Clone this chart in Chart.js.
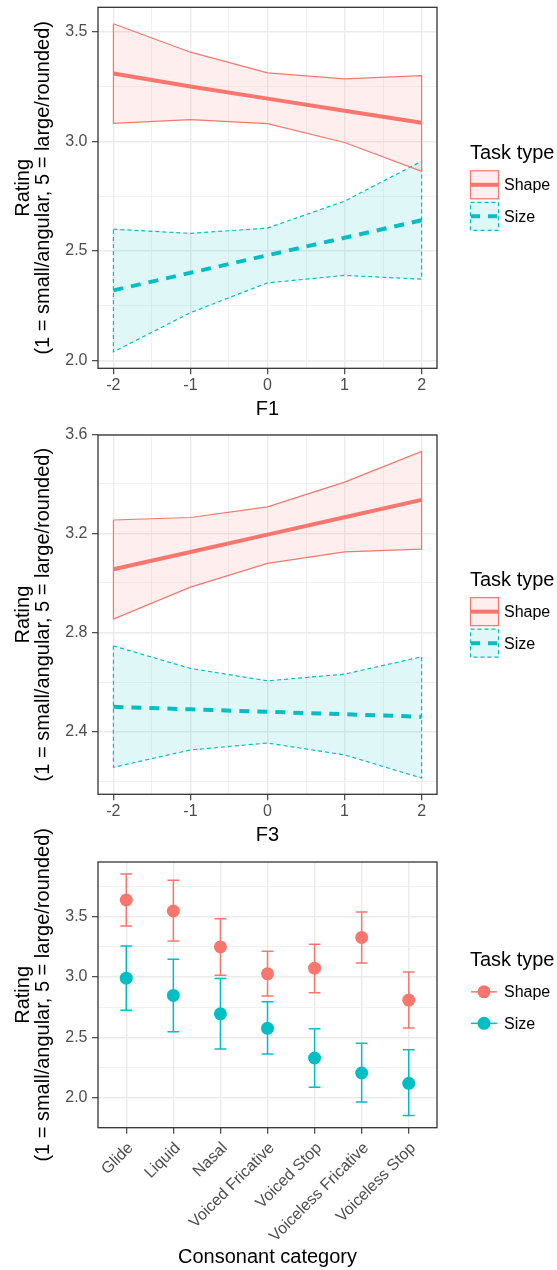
<!DOCTYPE html>
<html><head><meta charset="utf-8">
<script src="https://cdn.jsdelivr.net/npm/chart.js"></script>
<style>
html,body{margin:0;padding:0;background:#fff;}
body{width:557px;height:1270px;position:relative;overflow:hidden;}
canvas{position:absolute;left:0;}
</style></head><body>
<canvas id="c1" width="557" height="420" style="top:0px"></canvas>
<canvas id="c2" width="557" height="425" style="top:420px"></canvas>
<canvas id="c3" width="557" height="455" style="top:815px"></canvas>
<script>
// ---------------- DATA ----------------
const seriesNames = ['Shape', 'Size'];
const legendTitle = 'Task type';
const yTitle = ['Rating', '(1 = small/angular, 5 = large/rounded)'];

const xValues = [-2, -1, 0, 1, 2];
const xMajorTicks = [-2, -1, 0, 1, 2];
const xMinorTicks = [-1.5, -0.5, 0.5, 1.5];

// Panel 1 : F1
const f1ShapeFit   = [3.31, 3.25, 3.195, 3.14, 3.085];
const f1ShapeUpper = [3.537, 3.407, 3.313, 3.285, 3.30];
const f1ShapeLower = [3.082, 3.099, 3.081, 2.995, 2.863];
const f1SizeFit    = [2.32, 2.40, 2.48, 2.56, 2.64];
const f1SizeUpper  = [2.599, 2.58, 2.604, 2.727, 2.909];
const f1SizeLower  = [2.039, 2.218, 2.354, 2.388, 2.371];
const f1YMajor = [2.0, 2.5, 3.0, 3.5];
const f1YMinor = [2.25, 2.75, 3.25];

// Panel 2 : F3
const f3ShapeFit   = [3.055, 3.125, 3.195, 3.265, 3.335];
const f3ShapeUpper = [3.254, 3.264, 3.307, 3.407, 3.531];
const f3ShapeLower = [2.854, 2.983, 3.079, 3.125, 3.136];
const f3SizeFit    = [2.50, 2.49, 2.48, 2.47, 2.46];
const f3SizeUpper  = [2.746, 2.655, 2.605, 2.632, 2.702];
const f3SizeLower  = [2.256, 2.326, 2.354, 2.306, 2.213];
const f3YMajor = [2.4, 2.8, 3.2, 3.6];
const f3YMinor = [2.2, 2.6, 3.0, 3.4];

// Panel 3 : Consonant category
const categories = ['Glide', 'Liquid', 'Nasal', 'Voiced Fricative', 'Voiced Stop', 'Voiceless Fricative', 'Voiceless Stop'];
const catShapeMean  = [3.635, 3.544, 3.247, 3.025, 3.072, 3.325, 2.808];
const catShapeUpper = [3.849, 3.797, 3.481, 3.212, 3.270, 3.536, 3.041];
const catShapeLower = [3.420, 3.297, 3.014, 2.843, 2.868, 3.115, 2.577];
const catSizeMean   = [2.989, 2.847, 2.695, 2.575, 2.330, 2.206, 2.121];
const catSizeUpper  = [3.256, 3.146, 2.987, 2.794, 2.571, 2.451, 2.398];
const catSizeLower  = [2.725, 2.547, 2.404, 2.363, 2.088, 1.967, 1.854];
const catYMajor = [2.0, 2.5, 3.0, 3.5];
const catYMinor = [2.25, 2.75, 3.25, 3.75];

// ---------------- STYLE ----------------
const FONT = "'Liberation Sans', Arial, sans-serif";
const COLORS = ['#F8766D', '#00BFC4'];
const FILLS = ['rgba(248,118,109,0.12)', 'rgba(0,191,196,0.12)'];
const TICK_COL = '#4D4D4D';
const GRID_COL = '#EBEBEB';
const BORDER_COL = '#333333';
Chart.defaults.font.family = FONT;

function near(a, b) { return Math.abs(a - b) < 1e-9; }
function expandRange(arrs, frac) {
  const all = [].concat(...arrs);
  const lo = Math.min(...all), hi = Math.max(...all);
  const pad = (hi - lo) * frac;
  return [lo - pad, hi + pad];
}

function axis(o) {
  const all = o.major.concat(o.minor).sort((a, b) => a - b);
  const isMajor = v => o.major.some(m => near(m, v));
  return {
    type: 'linear', min: o.min, max: o.max,
    afterBuildTicks: s => { s.ticks = all.map(v => ({value: v})); },
    afterFit: s => {
      if (o.isX) s.height = o.size; else s.width = o.size;
      s.paddingLeft = 0; s.paddingRight = 0; s.paddingTop = 0; s.paddingBottom = 0;
    },
    grid: {
      color: GRID_COL,
      lineWidth: c => (c.tick && isMajor(c.tick.value)) ? 1.4 : 0.7,
      tickColor: c => (c.tick && isMajor(c.tick.value)) ? BORDER_COL : 'rgba(0,0,0,0)',
      tickLength: 6, tickWidth: 1.1, drawTicks: true
    },
    border: {display: false},
    ticks: {
      autoSkip: false, padding: o.tickPad, color: TICK_COL,
      font: {family: FONT, size: 16}, labelOffset: o.labelOffset || 0,
      maxRotation: o.rotation || 0, minRotation: o.rotation || 0,
      callback: v => isMajor(v) ? o.labelFn(v) : ''
    },
    title: {display: o.showTitle !== false, text: o.title, color: '#000',
      font: {family: FONT, size: 20, lineHeight: 1}, padding: o.titlePad}
  };
}

const panelBorder = {
  id: 'panelBorder',
  afterDatasetsDraw(chart) {
    const {ctx, chartArea: a} = chart;
    ctx.save();
    ctx.strokeStyle = BORDER_COL; ctx.lineWidth = 1.3; ctx.setLineDash([]);
    ctx.strokeRect(a.left, a.top, a.right - a.left, a.bottom - a.top);
    ctx.restore();
  }
};

// y-axis title drawn without width compression (it is longer than the panel)
const freeYTitle = {
  id: 'freeYTitle',
  afterDraw(chart, args, o) {
    if (!o.enabled) return;
    const {ctx, chartArea: a} = chart;
    const cy = (a.top + a.bottom) / 2;
    ctx.save();
    ctx.fillStyle = '#000'; ctx.font = '20px ' + FONT;
    ctx.textAlign = 'center'; ctx.textBaseline = 'middle';
    yTitle.forEach((line, k) => {
      ctx.save();
      ctx.translate(23.5 + k * 20, cy);
      ctx.rotate(-Math.PI / 2);
      ctx.fillText(line, 0, 0);
      ctx.restore();
    });
    ctx.restore();
  }
};

const ggLegend = {
  id: 'ggLegend',
  afterDraw(chart, args, o) {
    const {ctx, chartArea: a} = chart;
    const cy = (a.top + a.bottom) / 2;
    const x0 = 470, ks = 29;
    ctx.save();
    ctx.textBaseline = 'middle'; ctx.textAlign = 'left';
    ctx.fillStyle = '#000'; ctx.font = '20px ' + FONT;
    ctx.fillText(legendTitle, 470, cy - 34.5);
    seriesNames.forEach((name, k) => {
      const kc = cy + (k === 0 ? -3 : 28.5);
      const dashed = k === 1;
      if (o.kind === 'ribbon') {
        ctx.fillStyle = FILLS[k];
        ctx.fillRect(x0, kc - ks / 2, ks, ks);
        ctx.strokeStyle = COLORS[k]; ctx.lineWidth = 1.2;
        ctx.setLineDash(dashed ? [4, 3] : []);
        ctx.strokeRect(x0 + 0.5, kc - ks / 2 + 0.5, ks - 1, ks - 1);
        ctx.lineWidth = 4; ctx.lineCap = 'butt';
        ctx.setLineDash(dashed ? [9, 8] : []);
        ctx.beginPath(); ctx.moveTo(x0 + 1, kc); ctx.lineTo(x0 + ks - 1, kc); ctx.stroke();
      } else {
        ctx.setLineDash([]);
        ctx.strokeStyle = COLORS[k]; ctx.lineWidth = 1.5;
        ctx.beginPath(); ctx.moveTo(x0 + 1, kc); ctx.lineTo(x0 + 27, kc); ctx.stroke();
        ctx.fillStyle = COLORS[k];
        ctx.beginPath(); ctx.arc(x0 + 14, kc, 6.5, 0, Math.PI * 2); ctx.fill();
      }
      ctx.setLineDash([]);
      ctx.fillStyle = '#000'; ctx.font = '16px ' + FONT;
      ctx.fillText(name, 504, kc + 1);
    });
    ctx.restore();
  }
};

function pts(xs, ys) { return xs.map((x, i) => ({x: x, y: ys[i]})); }
function polygon(xs, up, lo) {
  const p = pts(xs, up).concat(pts(xs, lo).reverse());
  p.push({x: p[0].x, y: p[0].y});
  return p;
}
function errorBars(up, lo, hw) {
  const p = [];
  up.forEach((u, i) => {
    const l = lo[i];
    p.push({x: i - hw, y: u}, {x: i + hw, y: u}, {x: i, y: null},
           {x: i, y: u}, {x: i, y: l}, {x: i, y: null},
           {x: i - hw, y: l}, {x: i + hw, y: l}, {x: i, y: null});
  });
  return p;
}

const base = {pointRadius: 0, pointHoverRadius: 0, tension: 0, borderCapStyle: 'butt', spanGaps: false};

function ribbonChart(id, xTitle, fitS, upS, loS, fitZ, upZ, loZ, yMajor, yMinor, geom) {
  const [ymin, ymax] = expandRange([upS, loS, upZ, loZ, fitS, fitZ], 0.05);
  const datasets = [
    Object.assign({}, base, {data: pts(xValues, fitS), borderColor: COLORS[0], borderWidth: 4, fill: false}),
    Object.assign({}, base, {data: pts(xValues, fitZ), borderColor: COLORS[1], borderWidth: 4, borderDash: [10, 8], fill: false}),
    Object.assign({}, base, {data: polygon(xValues, upS, loS), borderColor: COLORS[0], borderWidth: 1.2, fill: false}),
    Object.assign({}, base, {data: polygon(xValues, upZ, loZ), borderColor: COLORS[1], borderWidth: 1.2, borderDash: [4, 3], fill: false}),
    Object.assign({}, base, {data: pts(xValues, upS), borderWidth: 0, borderColor: 'rgba(0,0,0,0)', backgroundColor: FILLS[0], fill: '+1'}),
    Object.assign({}, base, {data: pts(xValues, loS), borderWidth: 0, borderColor: 'rgba(0,0,0,0)', fill: false}),
    Object.assign({}, base, {data: pts(xValues, upZ), borderWidth: 0, borderColor: 'rgba(0,0,0,0)', backgroundColor: FILLS[1], fill: '+1'}),
    Object.assign({}, base, {data: pts(xValues, loZ), borderWidth: 0, borderColor: 'rgba(0,0,0,0)', fill: false})
  ];
  return new Chart(document.getElementById(id), {
    type: 'line',
    data: {datasets},
    plugins: [panelBorder, ggLegend],
    options: {
      responsive: false, animation: false, events: [], devicePixelRatio: 1,
      layout: {padding: {left: 0, right: 120, top: geom.top, bottom: 0}},
      plugins: {legend: {display: false}, tooltip: {enabled: false}, ggLegend: {kind: 'ribbon'}},
      scales: {
        x: axis({isX: true, min: -2.2, max: 2.2, major: xMajorTicks, minor: xMinorTicks,
          labelFn: v => String(v), size: geom.xh, tickPad: 1.2, title: xTitle,
          titlePad: {top: 0, bottom: geom.tb}}),
        y: axis({isX: false, min: ymin, max: ymax, major: yMajor, minor: yMinor,
          labelFn: v => v.toFixed(1), size: 98, tickPad: 4.5, title: yTitle,
          titlePad: {top: 13.5, bottom: 0}})
      }
    }
  });
}

ribbonChart('c1', 'F1', f1ShapeFit, f1ShapeUpper, f1ShapeLower, f1SizeFit, f1SizeUpper, f1SizeLower,
  f1YMajor, f1YMinor, {top: 7.3, xh: 51.7, tb: 1});
ribbonChart('c2', 'F3', f3ShapeFit, f3ShapeUpper, f3ShapeLower, f3SizeFit, f3SizeUpper, f3SizeLower,
  f3YMajor, f3YMinor, {top: 15, xh: 50.7, tb: 0});

(function () {
  const [ymin, ymax] = expandRange([catShapeUpper, catShapeLower, catSizeUpper, catSizeLower], 0.05);
  const idx = categories.map((c, i) => i);
  const datasets = [
    Object.assign({}, base, {data: pts(idx, catShapeMean), showLine: false, pointRadius: 6.5,
      pointBackgroundColor: COLORS[0], pointBorderColor: COLORS[0], pointBorderWidth: 0}),
    Object.assign({}, base, {data: pts(idx, catSizeMean), showLine: false, pointRadius: 6.5,
      pointBackgroundColor: COLORS[1], pointBorderColor: COLORS[1], pointBorderWidth: 0}),
    Object.assign({}, base, {data: errorBars(catShapeUpper, catShapeLower, 0.125), borderColor: COLORS[0], borderWidth: 1.5, fill: false}),
    Object.assign({}, base, {data: errorBars(catSizeUpper, catSizeLower, 0.125), borderColor: COLORS[1], borderWidth: 1.5, fill: false})
  ];
  new Chart(document.getElementById('c3'), {
    type: 'line',
    data: {datasets},
    plugins: [panelBorder, ggLegend, freeYTitle],
    options: {
      responsive: false, animation: false, events: [], devicePixelRatio: 1,
      layout: {padding: {left: 0, right: 120, top: 47, bottom: 0}},
      plugins: {legend: {display: false}, tooltip: {enabled: false}, ggLegend: {kind: 'point'},
        freeYTitle: {enabled: true}},
      scales: {
        x: axis({isX: true, min: -0.6, max: categories.length - 1 + 0.6, major: idx, minor: [],
          labelFn: v => categories[Math.round(v)], size: 142.3, tickPad: 5, rotation: 45,
          labelOffset: 4.5, title: 'Consonant category', titlePad: {top: 0, bottom: 2.5}}),
        y: axis({isX: false, min: ymin, max: ymax, major: catYMajor, minor: catYMinor,
          labelFn: v => v.toFixed(1), size: 98, tickPad: 4.5, title: yTitle, showTitle: false,
          titlePad: {top: 13.5, bottom: 0}})
      }
    }
  });
})();
</script></body></html>
